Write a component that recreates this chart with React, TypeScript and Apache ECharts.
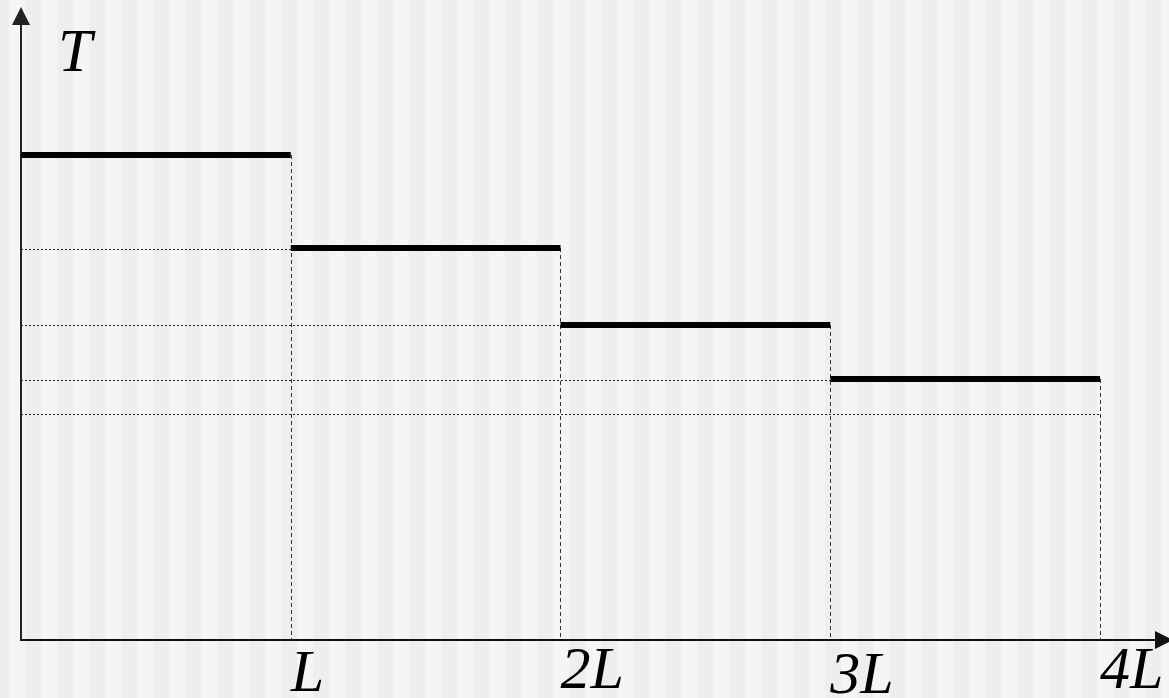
import React, { useEffect, useRef } from "react";
import * as echarts from "echarts";

// ---- data ----
const stepStarts = [0, 1, 2, 3];
const stepEnds = [1, 2, 3, 4];
const stepLevels = [4.85, 3.92, 3.15, 2.61];
const guideLevels = [3.907, 3.143, 2.593, 2.257];
const xTicks = [1, 2, 3, 4];
const xTickLabels = ["L", "2L", "3L", "4L"];
const yAxisName = "T";

const X_MAX = 4.237;
const Y_MAX = 6.24;

const serif = "'Liberation Serif', 'Times New Roman', serif";

export default function App() {
  const ref = useRef<HTMLDivElement>(null);

  useEffect(() => {
    if (!ref.current) return;
    const chart = echarts.init(ref.current, undefined, { renderer: "svg" });

    const richKeys = ["a", "b", "c", "d"];
    const richPad = [5, 0, 10, 0];
    const rich: Record<string, any> = {};
    richKeys.forEach((k, i) => {
      rich[k] = {
        fontFamily: serif,
        fontStyle: "italic",
        fontSize: 60,
        lineHeight: 42,
        color: "#000",
        padding: [richPad[i], 0, 0, 0],
      };
    });

    const option: any = {
      animation: false,
      backgroundColor: "transparent",
      grid: {
        left: 21,
        right: 5,
        top: 16,
        bottom: 58,
        containLabel: false,
        outerBoundsMode: "none",
      },
      xAxis: {
        type: "value",
        min: 0,
        max: X_MAX,
        interval: 1,
        axisLine: {
          show: true,
          symbol: ["none", "triangle"],
          symbolSize: [18, 18],
          lineStyle: { color: "#111", width: 2 },
        },
        axisTick: { show: false },
        splitLine: { show: false },
        axisLabel: {
          show: true,
          margin: 28,
          align: "left",
          verticalAlign: "middle",
          fontFamily: serif,
          fontStyle: "italic",
          fontSize: 60,
          lineHeight: 42,
          color: "#000",
          showMinLabel: true,
          showMaxLabel: true,
          hideOverlap: false,
          formatter: (v: number) => {
            const i = xTicks.indexOf(v);
            return i < 0 ? "" : `{${richKeys[i]}|${xTickLabels[i]}}`;
          },
          rich,
        },
      },
      yAxis: {
        type: "value",
        min: 0,
        max: Y_MAX,
        name: yAxisName,
        nameLocation: "end",
        nameGap: -34,
        nameTextStyle: {
          fontFamily: serif,
          fontStyle: "italic",
          fontSize: 61,
          lineHeight: 44,
          color: "#000",
          align: "left",
          verticalAlign: "middle",
          padding: [0, 0, 0, 37],
        },
        axisLine: {
          show: true,
          symbol: ["none", "triangle"],
          symbolSize: [18, 18],
          lineStyle: { color: "#222", width: 2 },
        },
        axisTick: { show: false },
        axisLabel: { show: false },
        splitLine: { show: false },
      },
      series: [
        {
          type: "lines",
          coordinateSystem: "cartesian2d",
          silent: true,
          z: 1,
          lineStyle: { color: "#333", width: 1, type: [4, 3], opacity: 1 },
          data: stepEnds.map((x, i) => ({
            coords: [
              [x, stepLevels[i]],
              [x, 0],
            ],
          })),
        },
        {
          type: "lines",
          coordinateSystem: "cartesian2d",
          silent: true,
          z: 1,
          lineStyle: { color: "#222", width: 1, type: [2, 2], opacity: 1 },
          data: stepEnds.map((x, i) => ({
            coords: [
              [0, guideLevels[i]],
              [x, guideLevels[i]],
            ],
          })),
        },
        {
          type: "lines",
          coordinateSystem: "cartesian2d",
          silent: true,
          z: 3,
          lineStyle: { color: "#000", width: 6, type: "solid", opacity: 1, cap: "butt" },
          data: stepStarts.map((x, i) => ({
            coords: [
              [x, stepLevels[i]],
              [stepEnds[i], stepLevels[i]],
            ],
          })),
        },
      ],
    };

    chart.setOption(option);
    return () => chart.dispose();
  }, []);

  return (
    <div
      style={{
        position: "absolute",
        left: 0,
        top: 0,
        width: 1169,
        height: 698,
        backgroundColor: "#f5f5f5",
        backgroundImage:
          "linear-gradient(90deg, #eeeeee 0px, #eeeeee 16px, #f5f5f5 16px, #f5f5f5 32px)",
        backgroundSize: "32px 100%",
        backgroundRepeat: "repeat-x",
        backgroundPosition: "25px 0",
        overflow: "hidden",
      }}
    >
      <div ref={ref} style={{ width: 1169, height: 698 }} />
    </div>
  );
}
